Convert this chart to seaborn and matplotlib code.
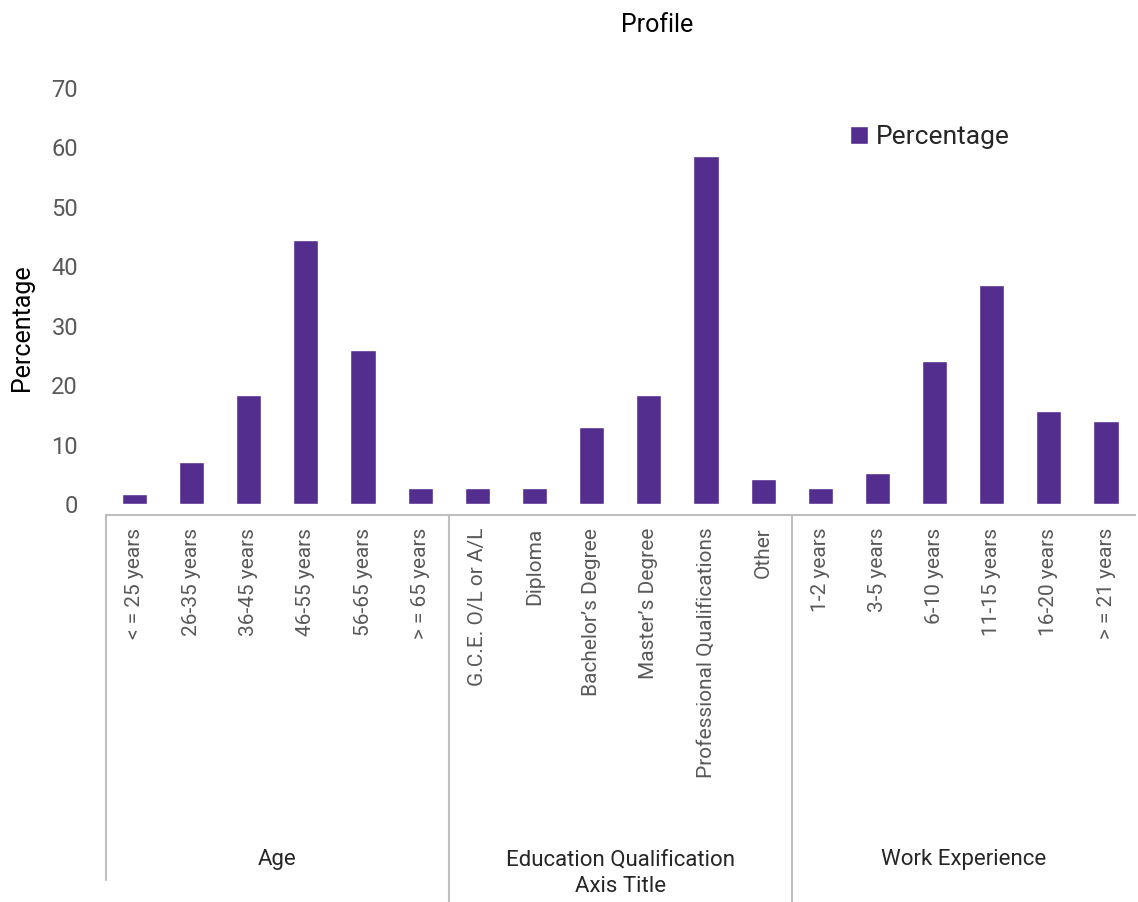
import pandas as pd
import matplotlib
matplotlib.use("Agg")
import matplotlib.pyplot as plt
import matplotlib.transforms as mtrans
import seaborn as sns

# ---------------------------------------------------------------
# Data
# ---------------------------------------------------------------
age_labels = ["< = 25 years", "26-35 years", "36-45 years", "46-55 years",
              "56-65 years", "> = 65 years"]
age_values = [1.7, 7.1, 18.3, 44.4, 25.9, 2.7]

edu_labels = ["G.C.E. O/L or A/L", "Diploma", "Bachelor’s Degree",
              "Master’s Degree", "Professional Qualifications", "Other"]
edu_values = [2.7, 2.7, 13.0, 18.3, 58.6, 4.2]

work_labels = ["1-2 years", "3-5 years", "6-10 years", "11-15 years",
               "16-20 years", "> = 21 years"]
work_values = [2.7, 5.2, 24.1, 36.8, 15.6, 14.0]

groups = ["Age", "Education Qualification", "Work Experience"]

df = pd.DataFrame({
    "category": age_labels + edu_labels + work_labels,
    "value": age_values + edu_values + work_values,
    "group": [groups[0]] * 6 + [groups[1]] * 6 + [groups[2]] * 6,
})

PURPLE = "#542E8E"
TICK_GRAY = "#595959"
LINE_GRAY = "#BFBFBF"
DARK = "#262626"

sns.set_style("white")
plt.rcParams['font.family'] = ['Roboto', 'DejaVu Sans']

fig = plt.figure(figsize=(11.38, 9.02), dpi=100)
ax = fig.add_axes([0.093, 0.4412, 0.904, 0.4612])

sns.barplot(data=df, x="category", y="value", color=PURPLE, width=0.44,
            saturation=1, ax=ax, label="Percentage")

ax.set_ylim(0, 70)
ax.set_yticks(range(0, 71, 10))
ax.set_xlim(-0.5, len(df) - 0.5)
ax.set_xlabel("")
ax.set_ylabel("")

for s in ["top", "right", "left"]:
    ax.spines[s].set_visible(False)
ax.spines["bottom"].set_color(LINE_GRAY)
ax.spines["bottom"].set_linewidth(1.5)
ax.spines["bottom"].set_position(("outward", 8))

ax.tick_params(axis="y", length=0, labelsize=17, labelcolor=TICK_GRAY, pad=20)
ax.tick_params(axis="x", length=0, labelsize=15, labelcolor=TICK_GRAY, pad=9,
               rotation=90)
for lbl in ax.get_xticklabels():
    lbl.set_va("top")
    lbl.set_ha("center")

# group separators and group labels below the category labels
trans = mtrans.blended_transform_factory(ax.transData, fig.transFigure)
y_axis_line = 1 - 515 / 902
ax.plot([-0.5, -0.5], [y_axis_line, 1 - 880 / 902], transform=trans,
        color=LINE_GRAY, lw=1.5, clip_on=False)
for xpos in [5.5, 11.5]:
    ax.plot([xpos, xpos], [y_axis_line, 0.0], transform=trans,
            color=LINE_GRAY, lw=1.5, clip_on=False)

for i, g in enumerate(groups):
    ax.text(i * 6 + 2.5, 1 - 860 / 902, g, transform=trans, ha="center",
            va="center", fontsize=16, color=DARK)
ax.text(8.5, 1 - 886 / 902, "Axis Title", transform=trans, ha="center",
        va="center", fontsize=16, color=DARK)

# titles
fig.text(0.577, 1 - 25 / 902, "Profile", ha="center", va="center",
         fontsize=18, color="black")
fig.text(22 / 1138, 1 - 328 / 902, "Percentage", rotation=90, ha="center",
         va="center", fontsize=18, color="black")

ax.legend(loc="center left", bbox_to_anchor=(826 / 1138, 1 - 137 / 902),
          bbox_transform=fig.transFigure, frameon=False, fontsize=19,
          handlelength=0.7, handleheight=0.7, handletextpad=0.3,
          labelcolor=DARK)

fig.savefig("out.png", dpi=100)
